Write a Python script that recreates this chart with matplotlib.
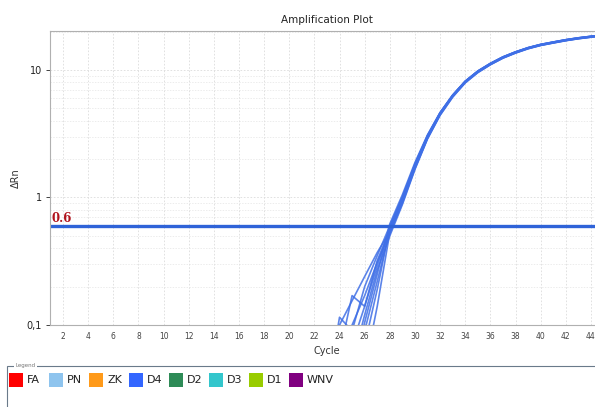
import matplotlib.pyplot as plt
from matplotlib.patches import Rectangle
from matplotlib.ticker import FixedLocator, LogLocator, NullFormatter

# cycles covered by the curves (earlier cycles sit below 0.1, off the plot)
cycles = list(range(23, 46))

# delta Rn per well, cycles 23..45
well_1 = [0.065, 0.10, 0.155, 0.24, 0.37, 0.54, 0.92, 1.70, 2.90, 4.42, 6.12, 7.92, 9.52, 10.98, 12.38, 13.58, 14.68, 15.58, 16.28, 16.98, 17.58, 18.08, 18.58]
well_2 = [0.03, 0.115, 0.09, 0.20, 0.35, 0.60, 1.0, 1.80, 3.02, 4.56, 6.28, 8.08, 9.70, 11.15, 12.55, 13.75, 14.85, 15.75, 16.45, 17.15, 17.75, 18.25, 18.75]
well_3 = [0.02, 0.06, 0.17, 0.14, 0.32, 0.56, 0.96, 1.75, 2.96, 4.50, 6.22, 8.02, 9.64, 11.08, 12.48, 13.68, 14.78, 15.68, 16.38, 17.08, 17.68, 18.18, 18.68]
well_4 = [0.02, 0.04, 0.10, 0.17, 0.31, 0.52, 0.90, 1.68, 2.92, 4.50, 6.28, 8.14, 9.80, 11.26, 12.66, 13.86, 14.96, 15.86, 16.56, 17.26, 17.86, 18.36, 18.86]
well_5 = [0.01, 0.03, 0.07, 0.14, 0.29, 0.58, 1.0, 1.82, 3.05, 4.6, 6.3, 8.1, 9.7, 11.1, 12.5, 13.7, 14.8, 15.7, 16.4, 17.1, 17.7, 18.2, 18.7]
well_6 = [0.01, 0.02, 0.05, 0.12, 0.27, 0.50, 0.88, 1.66, 2.88, 4.42, 6.14, 7.94, 9.56, 11.0, 12.38, 13.56, 14.66, 15.56, 16.26, 16.96, 17.56, 18.06, 18.56]
well_7 = [0.01, 0.02, 0.04, 0.105, 0.25, 0.62, 1.05, 1.88, 3.10, 4.64, 6.35, 8.15, 9.76, 11.2, 12.6, 13.8, 14.9, 15.8, 16.5, 17.2, 17.8, 18.3, 18.8]
well_8 = [0.005, 0.01, 0.03, 0.09, 0.22, 0.55, 0.97, 1.79, 3.01, 4.55, 6.26, 8.05, 9.65, 11.08, 12.46, 13.65, 14.74, 15.63, 16.33, 17.02, 17.62, 18.12, 18.62]
well_9 = [0.005, 0.01, 0.02, 0.07, 0.19, 0.58, 1.01, 1.83, 3.06, 4.62, 6.36, 8.17, 9.8, 11.25, 12.65, 13.85, 14.95, 15.85, 16.55, 17.25, 17.85, 18.35, 18.85]
well_10 = [0.005, 0.008, 0.015, 0.045, 0.14, 0.53, 0.94, 1.76, 3.0, 4.58, 6.32, 8.14, 9.78, 11.24, 12.64, 13.84, 14.94, 15.84, 16.54, 17.24, 17.84, 18.34, 18.84]
wells = [well_1, well_2, well_3, well_4, well_5, well_6, well_7, well_8, well_9, well_10]

threshold = 0.6

legend_names = ['FA', 'PN', 'ZK', 'D4', 'D2', 'D3', 'D1', 'WNV']
legend_colors = ['#ff0000', '#8ec4ee', '#ff9a1a', '#3366ff', '#2e8b57', '#33c6cc', '#99cc00', '#800080']

x_ticks = list(range(2, 45, 2))
y_ticks = [0.1, 1, 10]
y_tick_labels = ['0,1', '1', '10']

fig = plt.figure(figsize=(5.95, 4.07), dpi=100)
ax = fig.add_axes([50.4 / 595, 1 - 325 / 407, 553.1 / 595, 294 / 407])

for w in wells:
    ax.plot(cycles, w, color='#3f6fe6', lw=1.2, alpha=0.85)

ax.axhline(threshold, color='#2f63d8', lw=2.4)
ax.text(1.05, threshold * 1.015, '0.6', color='#b0141e', fontsize=8.5,
        family='DejaVu Serif', weight='bold', va='bottom', ha='left')

ax.set_yscale('log')
ax.set_xlim(1, 45)
ax.set_ylim(0.1, 20.2)

ax.xaxis.set_major_locator(FixedLocator(x_ticks))
ax.set_xticklabels([str(t) for t in x_ticks])
ax.yaxis.set_major_locator(FixedLocator(y_ticks))
ax.set_yticklabels(y_tick_labels)
ax.yaxis.set_minor_locator(LogLocator(base=10, subs=range(2, 10)))
ax.yaxis.set_minor_formatter(NullFormatter())

ax.tick_params(axis='x', labelsize=5.5, colors='#444444', length=0, pad=5)
ax.tick_params(axis='y', labelsize=7, colors='#222222', length=3, width=0.6, pad=3)
ax.tick_params(axis='y', which='minor', length=0)

ax.grid(True, which='major', color='#dcdcdc', ls=(0, (2, 2)), lw=0.6)
ax.grid(True, which='minor', axis='y', color='#e4e4e4', ls=(0, (2, 2)), lw=0.5)

for s in ['left', 'top', 'bottom', 'right']:
    ax.spines[s].set_color('#b0b0b0')
    ax.spines[s].set_linewidth(0.8)

ax.set_title('Amplification Plot', fontsize=7.5, color='#222222', pad=6)
ax.set_xlabel('Cycle', fontsize=7, color='#333333', labelpad=4)
ax.set_ylabel('ΔRn', fontsize=7, color='#333333', labelpad=4)

# legend panel under the chart
fig.patches.append(Rectangle((7 / 595, -0.05), 0.99, 1 - 366 / 407 + 0.05,
                             transform=fig.transFigure, fill=False,
                             edgecolor='#6a7a8a', lw=0.8))
fig.text(15 / 595, 1 - 366 / 407, 'Legend', fontsize=4, color='#777777',
         va='center', ha='left',
         bbox=dict(facecolor='white', edgecolor='none', pad=1))

x0 = 9
for name, col in zip(legend_names, legend_colors):
    fig.patches.append(Rectangle((x0 / 595, 1 - 387 / 407), 14 / 595, 14 / 407,
                                 transform=fig.transFigure, facecolor=col,
                                 edgecolor='none'))
    fig.text((x0 + 18) / 595, 1 - 380 / 407, name, fontsize=8, color='#222222',
             va='center', ha='left')
    x0 += 40

fig.savefig('out.png', dpi=100)
